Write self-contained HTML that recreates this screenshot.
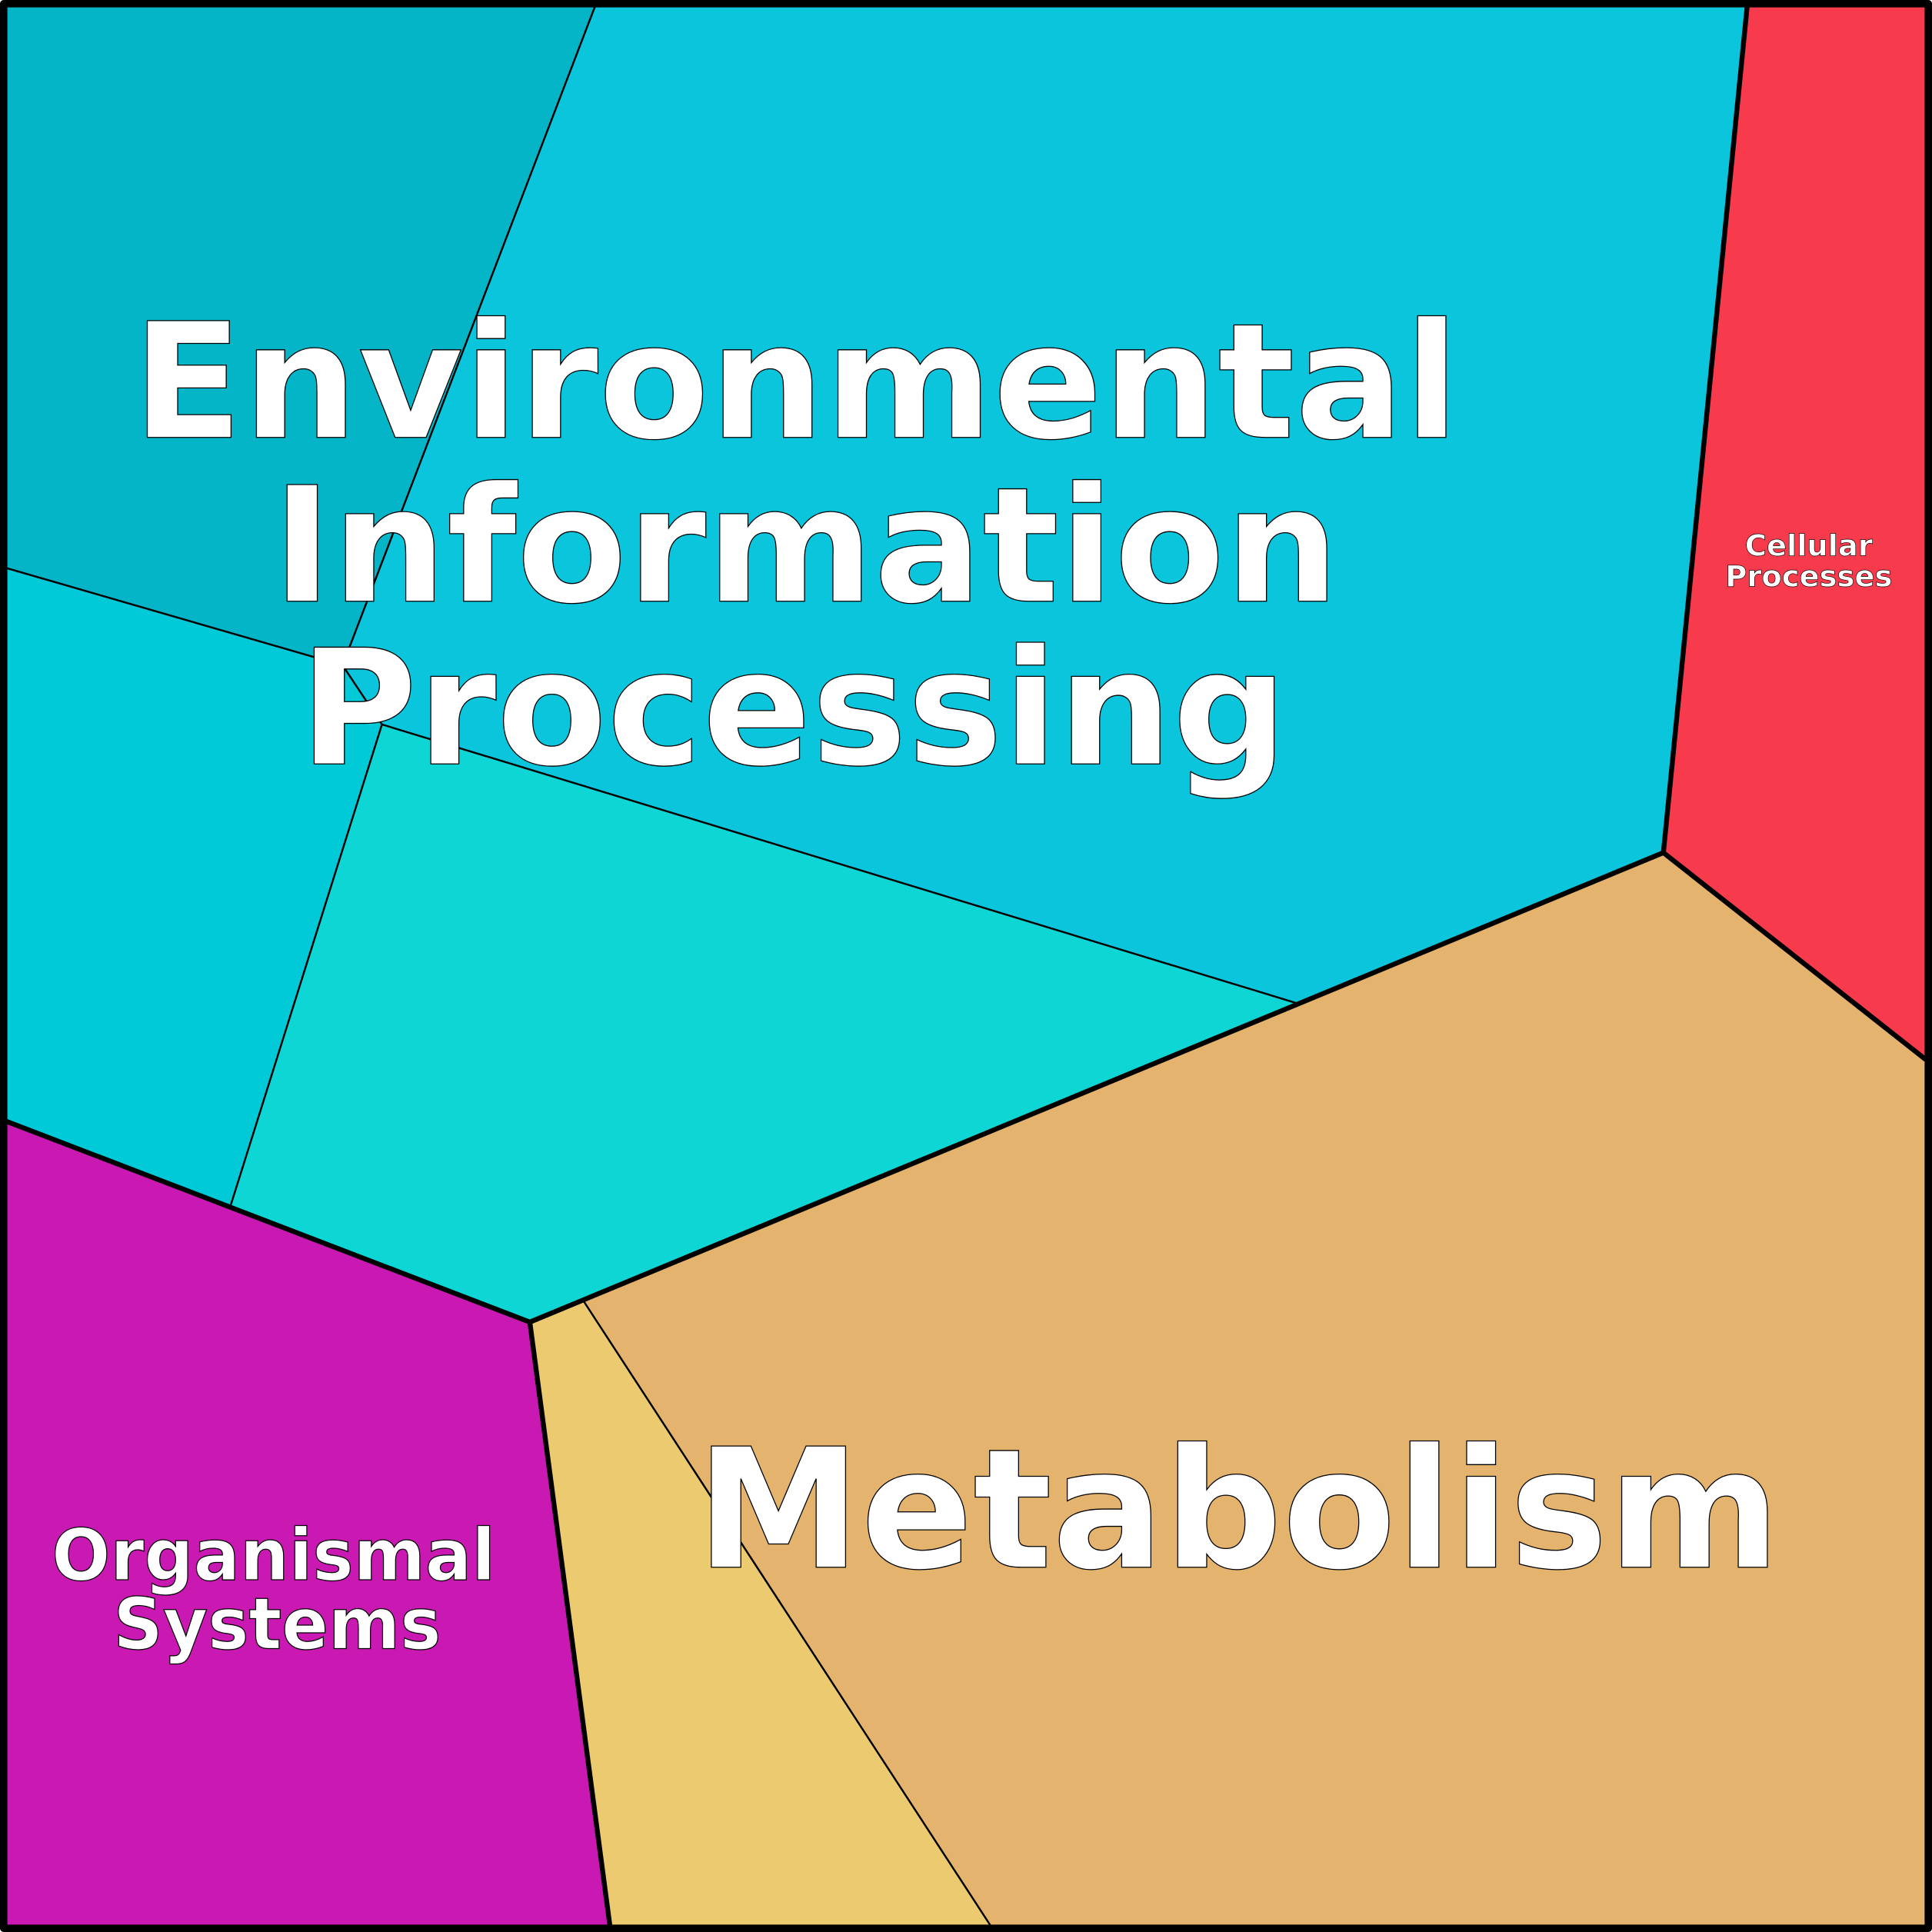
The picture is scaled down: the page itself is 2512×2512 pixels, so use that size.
<!DOCTYPE html>
<html><head><meta charset="utf-8"><style>html,body{margin:0;padding:0;background:#fff}svg{display:block}</style></head>
<body>
<svg width="2512" height="2512" viewBox="0 0 1568 1568" xmlns="http://www.w3.org/2000/svg">
<g stroke="#000" stroke-width="1.5" stroke-linejoin="round">
<polygon fill="#03b5c6" points="5,5 483,5 278,540 5,461"/>
<polygon fill="#0ac5dc" points="483,5 1418,5 1350,692 1055,815 310,588 278,540"/>
<polygon fill="#00c9d8" points="5,461 278,540 310,588 187,979 5,910"/>
<polygon fill="#0dd6d4" points="310,588 1055,815 430,1073 187,979"/>
<polygon fill="#f83b4c" points="1418,5 1563,5 1563,860 1350,692"/>
<polygon fill="#e4b46f" points="1350,692 1563,860 1563,1563 804,1563 473,1055 1055,815"/>
<polygon fill="#ebca70" points="430,1073 473,1055 804,1563 495,1563"/>
<polygon fill="#ca19b2" points="5,910 430,1073 495,1563 5,1563"/>
</g>
<g fill="none" stroke="#000" stroke-width="4" stroke-linejoin="round">
<polyline points="5,910 430,1073 1350,692 1418,5"/>
<line x1="1350" y1="692" x2="1563" y2="860"/>
<line x1="430" y1="1073" x2="495" y2="1563"/>
<rect x="3" y="3" width="1562" height="1562" stroke-width="6"/>
</g>
<g font-family="'DejaVu Sans','Liberation Sans',sans-serif" font-weight="bold" fill="#fff" stroke="#000" stroke-width="0.8" text-anchor="middle">
<text x="646" y="355" font-size="130" textLength="1077" lengthAdjust="spacingAndGlyphs">Environmental</text>
<text x="654" y="488" font-size="130" textLength="866" lengthAdjust="spacingAndGlyphs">Information</text>
<text x="644" y="620" font-size="130" textLength="802" lengthAdjust="spacingAndGlyphs">Processing</text>
<text x="1005" y="1272" font-size="135" textLength="880" lengthAdjust="spacingAndGlyphs">Metabolism</text>
<text x="222" y="1282" font-size="58" textLength="360" lengthAdjust="spacingAndGlyphs">Organismal</text>
<text x="225" y="1338" font-size="58" textLength="266" lengthAdjust="spacingAndGlyphs">Systems</text>
<text x="1468" y="451" font-size="24" stroke-width="0.4">Cellular</text>
<text x="1468" y="476" font-size="24" stroke-width="0.4">Processes</text>
</g>
</svg>
</body></html>
